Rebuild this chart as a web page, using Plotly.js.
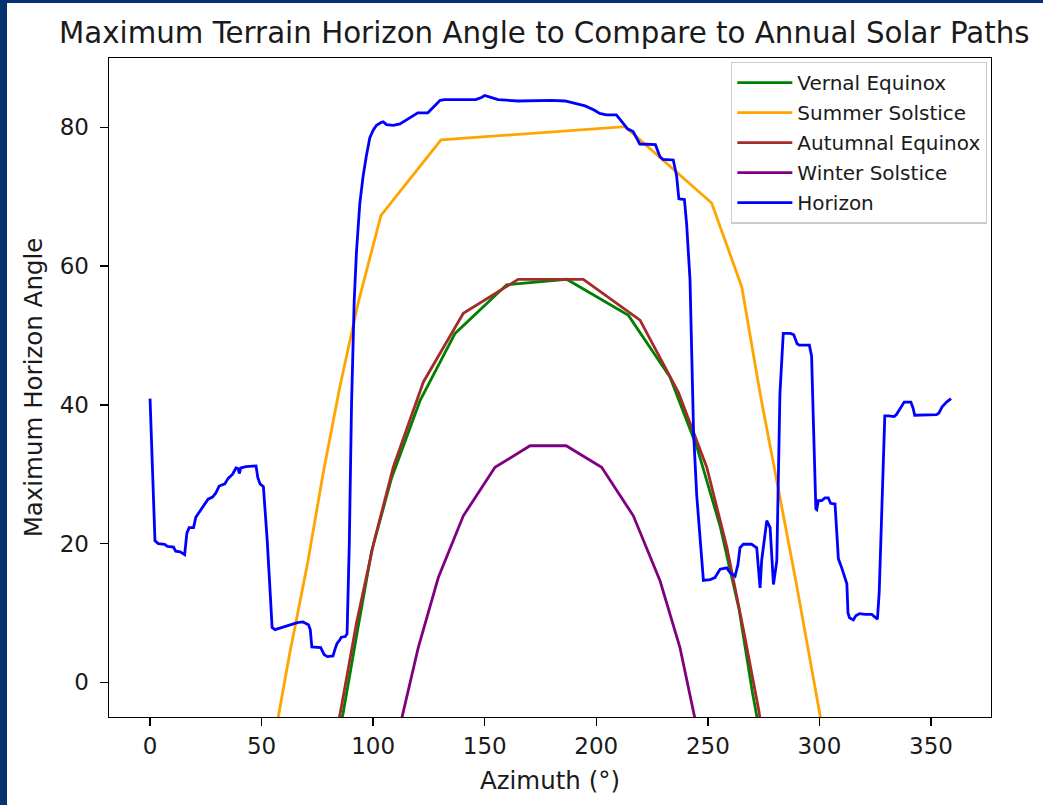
<!DOCTYPE html>
<html>
<head>
<meta charset="utf-8">
<script src="https://cdn.plot.ly/plotly-3.0.1.min.js"></script>
<style>
  html, body { margin: 0; padding: 0; background: #07326d; width: 1043px; height: 805px; overflow: hidden; }
  #chart { position: absolute; left: 7px; top: 3px; width: 1036px; height: 802px; background: #ffffff; }
</style>
</head>
<body>
<div id="chart"></div>
<script>
// ---- Data ----
const vernalAz  = [77.5, 86.5, 93, 99.3, 108.3, 121, 136.7, 159.8, 186.7, 214.4, 233, 245, 255.5, 264, 270, 276];
const vernalAlt = [-17, -4.5, 7.5, 18.9, 29.5, 40.6, 50.3, 57.3, 58.1, 52.9, 44, 34, 22.5, 10.5, -1.5, -12];

const summerAz  = [55.5, 62.5, 70.5, 77.5, 85, 93.5, 103.5, 130.4, 212.9, 251.7, 265.2, 273.5, 281.5, 289.5, 296.5, 303.5];
const summerAlt = [-8.5, 4, 17, 30, 42.5, 55, 67.3, 78.2, 80.1, 69.1, 57.0, 41.5, 28, 14.5, 2, -10.5];

const autumnAz  = [78, 85.5, 92.5, 100.1, 109, 122.5, 140.4, 165, 194.2, 219.6, 236.8, 249.5, 258.5, 266, 272.8, 278];
const autumnAlt = [-16, -4, 8.5, 19.9, 31, 43.3, 53.2, 58.1, 58.1, 52.2, 41.8, 31, 19.5, 7.5, -4, -15];

const winterAz  = [111.5, 120.2, 129.2, 140.4, 154.6, 170.3, 186.5, 202.4, 216.6, 228.6, 237.5, 245.5];
const winterAlt = [-7, 5.0, 15.1, 24.0, 31.0, 34.1, 34.1, 31.0, 24.0, 14.6, 5.0, -7.2];

const horizonAz = [0, 2.2, 3.7, 6.5, 7.8, 10.5, 11.5, 13.5, 15.5, 16.5, 17.5, 19.5, 20.5, 22, 25, 26, 28, 29.5, 31, 33.5,
  35, 37, 38.5, 39.5, 40, 40.7, 43, 47.5, 48.3, 49.3, 50.8, 51.5, 52.5, 54, 54.7, 56, 60, 66, 68.5, 71,
  71.8, 72.5, 76.5, 78, 79.5, 82, 83, 83.8, 85, 85.7, 87.5, 88.3, 89.3, 90.3, 91.5, 92.5, 94, 95.5, 97, 98.5,
  100, 101.5, 103.5, 104.5, 106, 109, 112, 114, 116.5, 118.5, 120, 124.5, 126, 128, 130, 132, 146, 148.5, 150, 152,
  156, 165, 180, 186, 190, 195, 199, 201.5, 204.5, 209, 211, 214, 216.5, 218, 219.5, 226.5, 228.5, 229.8, 234.5, 236,
  237, 239.5, 240.5, 242, 243.6, 245, 248, 251, 253.2, 254.5, 255.5, 258.5, 260, 262.2, 263.5, 264.4, 265.9, 269.6, 271.9, 273.4,
  274.1, 276.4, 277.9, 279.4, 280.9, 282.3, 283.8, 287, 288.5, 290, 291, 295.5, 296.5, 297.3, 297.8, 298.4, 298.8, 299.5, 301, 302.5,
  304, 305, 307, 307.8, 308.5, 310, 311.5, 312.3, 312.8, 313.5, 315.2, 316.3, 318, 320.5, 323.5, 325.3, 326, 326.8, 327.6, 328.5,
  329.3, 331, 333.5, 334.5, 336.5, 338, 341, 342, 342.7, 347, 352.5, 353.5, 355, 357, 358.5, 359];
const horizonAlt = [40.9, 20.4, 20.0, 19.9, 19.6, 19.5, 18.9, 18.8, 18.4, 21.5, 22.3, 22.3, 23.8, 24.5, 25.8, 26.4, 26.7, 27.3, 28.3, 28.6,
  29.4, 30.0, 30.9, 30.8, 30.1, 30.9, 31.1, 31.2, 29.5, 28.6, 28.2, 25.0, 20.5, 12.0, 7.9, 7.6, 8.0, 8.6, 8.7, 8.3,
  7.6, 5.1, 5.0, 4.0, 3.7, 3.8, 4.9, 5.6, 6.1, 6.5, 6.6, 7.0, 20, 40, 55, 62, 69, 73, 76, 78.5,
  79.6, 80.3, 80.7, 80.8, 80.4, 80.3, 80.5, 80.9, 81.3, 81.8, 82.1, 82.1, 82.6, 83.3, 83.9, 84.0, 84.0, 84.3, 84.6, 84.4,
  84.0, 83.8, 83.9, 83.8, 83.5, 83.1, 82.5, 82.0, 81.8, 81.8, 81.0, 79.8, 79.4, 78.5, 77.6, 77.5, 75.8, 75.4, 75.3, 73.0,
  69.7, 69.6, 66.0, 58.0, 36.0, 27.0, 14.7, 14.8, 15.1, 15.8, 16.3, 16.5, 15.8, 15.3, 17.0, 19.4, 19.9, 19.9, 19.4, 13.6,
  17.5, 23.3, 22.3, 14.1, 17.5, 41.6, 50.3, 50.3, 50.1, 48.8, 48.6, 48.6, 47.0, 37.5, 30.0, 25.0, 24.9, 26.2, 26.2, 26.6,
  26.6, 25.8, 25.7, 22.0, 17.8, 16.5, 15.2, 14.2, 10.0, 9.3, 9.0, 9.6, 9.9, 9.8, 9.8, 9.3, 9.1, 13.0, 22.0, 32.0,
  38.4, 38.4, 38.3, 38.6, 39.7, 40.4, 40.4, 39.5, 38.5, 38.5, 38.6, 38.8, 39.7, 40.4, 40.8, 40.9];

const seriesNames = ['Vernal Equinox', 'Summer Solstice', 'Autumnal Equinox', 'Winter Solstice', 'Horizon'];
const seriesColors = ['green', 'orange', 'brown', 'purple', 'blue'];
const xTicks = [0, 50, 100, 150, 200, 250, 300, 350];
const yTicks = [0, 20, 40, 60, 80];

const xs = [vernalAz, summerAz, autumnAz, winterAz, horizonAz];
const ys = [vernalAlt, summerAlt, autumnAlt, winterAlt, horizonAlt];

const FONT = 'DejaVu Sans, sans-serif';
const TXT = '#1a1a1a';

const traces = seriesNames.map((n, i) => ({
  type: 'scatter', mode: 'lines', name: n,
  x: xs[i], y: ys[i],
  line: { color: seriesColors[i], width: 2.8 },
  legendgroup: 'g' + i,
  hoverinfo: 'skip'
}));

const layout = {
  width: 1036, height: 802,
  margin: { l: 102, r: 52, t: 55, b: 88, pad: 0 },
  paper_bgcolor: '#ffffff', plot_bgcolor: '#ffffff',
  font: { family: FONT, color: TXT },
  title: {
    text: 'Maximum Terrain Horizon Angle to Compare to Annual Solar Paths',
    font: { family: FONT, size: 29.3, color: TXT },
    x: 0.4935, xref: 'paper', xanchor: 'center',
    y: 0.963, yref: 'container', yanchor: 'middle'
  },
  xaxis: {
    range: [-18.4, 376.9], tickvals: xTicks, ticktext: xTicks.map(String),
    showgrid: false, zeroline: false,
    showline: true, linecolor: '#000', linewidth: 1.4, mirror: true,
    ticks: 'outside', ticklen: 8, tickwidth: 1.4, tickcolor: '#000',
    tickfont: { family: FONT, size: 23, color: TXT },
    title: { text: 'Azimuth (°)', font: { family: FONT, size: 24.5, color: TXT }, standoff: 14 },
    automargin: true
  },
  yaxis: {
    range: [-5, 90], tickvals: yTicks, ticktext: yTicks.map(String),
    showgrid: false, zeroline: false,
    showline: true, linecolor: '#000', linewidth: 1.4, mirror: true,
    ticks: 'outside', ticklen: 8, tickwidth: 1.4, tickcolor: '#000',
    ticklabelstandoff: 6,
    tickfont: { family: FONT, size: 23, color: TXT },
    title: { text: 'Maximum Horizon Angle', font: { family: FONT, size: 24.5, color: TXT }, standoff: 10 },
    automargin: true
  },
  showlegend: true,
  legend: {
    x: 0.9955, xanchor: 'right', y: 0.9943, yanchor: 'top',
    bgcolor: 'rgba(255,255,255,0.8)', bordercolor: '#cccccc', borderwidth: 1.3,
    font: { family: FONT, size: 20, color: TXT },
    traceorder: 'grouped', tracegroupgap: 1, itemwidth: 55
  }
};

Plotly.newPlot('chart', traces, layout, { displayModeBar: false, staticPlot: true });
</script>
</body>
</html>
